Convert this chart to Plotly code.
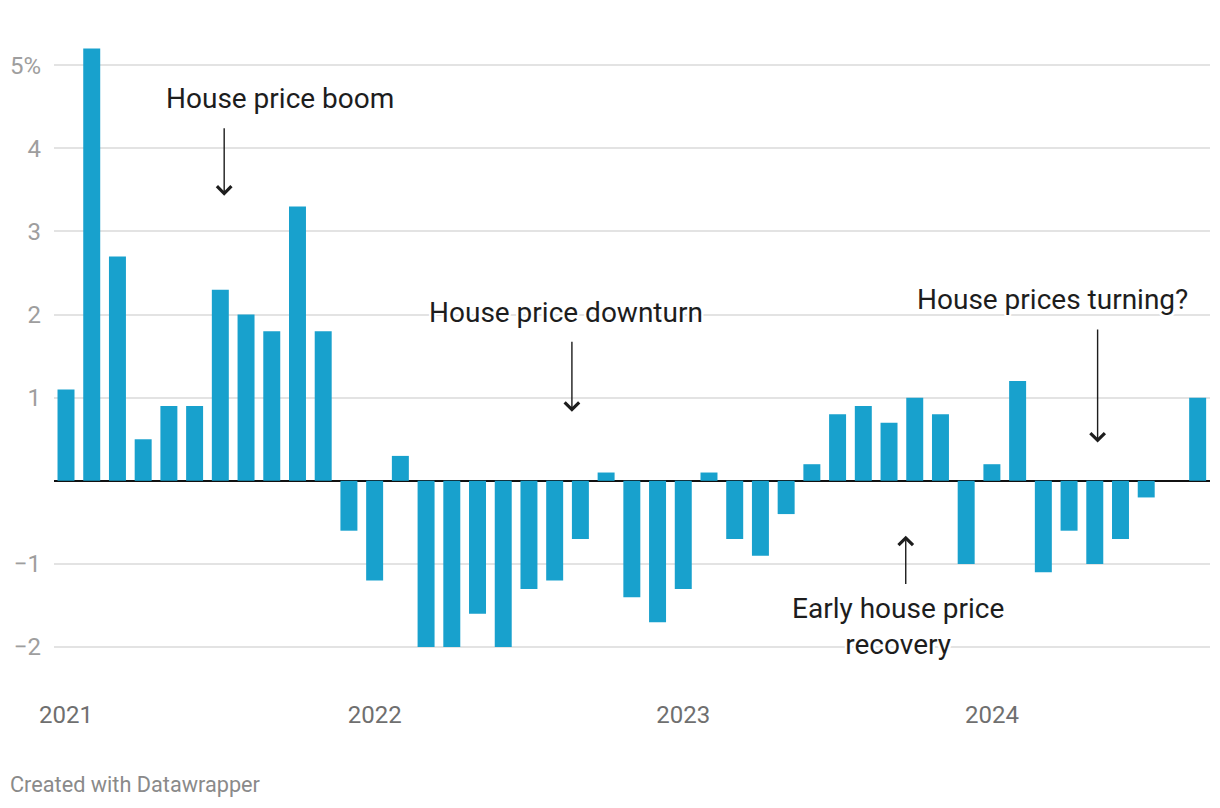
import plotly.graph_objects as go

# ---- data ----
months = [f"{y}-{m:02d}" for y in (2021, 2022, 2023, 2024) for m in range(1, 13)][:45]
values = [1.1, 5.2, 2.7, 0.5, 0.9, 0.9, 2.3, 2.0, 1.8, 3.3, 1.8, -0.6,
          -1.2, 0.3, -2.0, -2.0, -1.6, -2.0, -1.3, -1.2, -0.7, 0.1, -1.4, -1.7,
          -1.3, 0.1, -0.7, -0.9, -0.4, 0.2, 0.8, 0.9, 0.7, 1.0, 0.8, -1.0,
          0.2, 1.2, -1.1, -0.6, -1.0, -0.7, -0.2, 0.0, 1.0]
year_labels = ["2021", "2022", "2023", "2024"]
y_tickvals = [-2, -1, 1, 2, 3, 4, 5]
y_ticktext = ["\u22122", "\u22121", "1", "2", "3", "4", "5%"]

x_idx = list(range(len(values)))
year_pos = [months.index(f"{y}-01") for y in year_labels]

BAR = "#18a1cd"
FONT = "Roboto"

W, H = 1220, 808
ML, MR, MT, MB = 54, 10, 32, 136
PW, PH = W - ML - MR, H - MT - MB

fig = go.Figure()
fig.add_trace(go.Bar(x=x_idx, y=values, marker=dict(color=BAR, line=dict(width=0)),
                     hoverinfo="skip"))

halo = ", ".join(f"white {dx}px {dy}px 0" for dx in (-2, 0, 2) for dy in (-2, 0, 2))
text_font = dict(family=FONT, size=28, color="#1d1d1d", shadow=halo)

annotations = []
for txt, x, y in [("House price boom", 8.32, 4.6),
                  ("House price downturn", 19.44, 2.02),
                  ("House prices turning?", 38.34, 2.18),
                  ("Early house price<br>recovery", 32.35, -1.75)]:
    annotations.append(dict(x=x, y=y, xref="x", yref="y", text=txt, showarrow=False,
                            font=text_font, align="center", xanchor="center", yanchor="middle"))
for hx, hy, ty in [(6.15, 3.43, 4.26), (19.67, 0.83, 1.69), (40.11, 0.46, 1.84),
                   (32.65, -0.66, -1.26)]:
    annotations.append(dict(x=hx, y=hy, ax=hx, ay=ty, xref="x", yref="y", axref="x", ayref="y",
                            text="", showarrow=True, arrowhead=4, arrowsize=2.0,
                            arrowwidth=1.4, arrowcolor="#1d1d1d", standoff=0, startstandoff=0))
annotations.append(dict(x=(8 - ML) / PW, y=(H - MB - 784) / PH, xref="paper", yref="paper",
                        text="Created with Datawrapper", showarrow=False,
                        xanchor="left", yanchor="middle",
                        font=dict(family=FONT, size=21.7, color="#8a8a8a")))

fig.update_layout(
    width=W, height=H,
    margin=dict(l=ML, r=MR, t=MT, b=MB),
    paper_bgcolor="white", plot_bgcolor="white",
    showlegend=False, bargap=0.34,
    font=dict(family=FONT),
    annotations=annotations,
    xaxis=dict(range=[-0.467, 44.48], tickvals=year_pos, ticktext=year_labels,
               showgrid=False, zeroline=False, showline=False, ticks="",
               tickfont=dict(family=FONT, size=24, color="#6f6f6f"),
               ticklabelstandoff=26, fixedrange=True),
    yaxis=dict(range=[-2.3, 5.4], tickvals=y_tickvals, ticktext=y_ticktext,
               showgrid=True, gridcolor="#e3e3e3", gridwidth=1.5,
               zeroline=True, zerolinecolor="#111111", zerolinewidth=2,
               showline=False, ticks="",
               tickfont=dict(family=FONT, size=24, color="#9e9e9e"),
               ticklabelstandoff=12, fixedrange=True),
)

fig.write_html("out.html", config={"displayModeBar": False},
               post_script="document.body.style.margin='0';document.body.style.padding='0';")
